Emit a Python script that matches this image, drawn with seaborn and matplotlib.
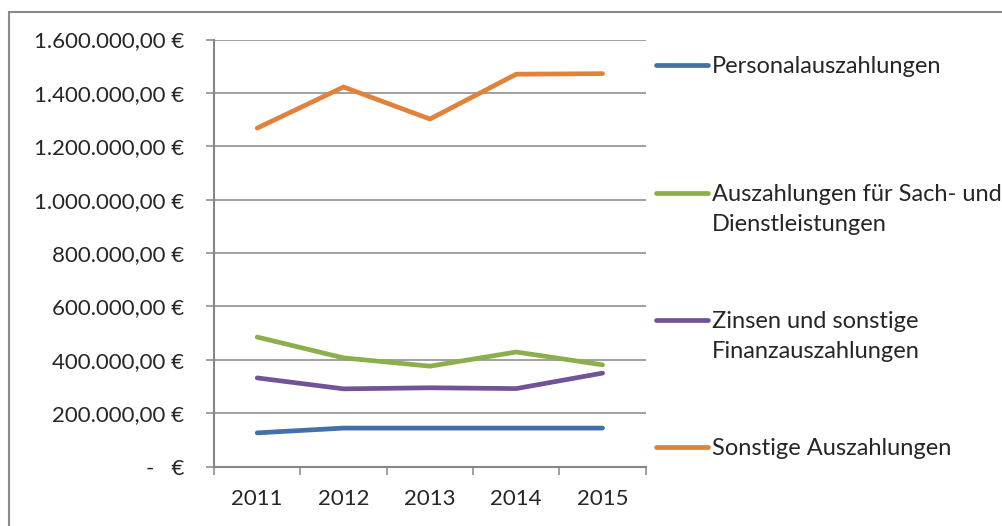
import pandas as pd
import matplotlib
matplotlib.use("Agg")
import matplotlib.pyplot as plt
import seaborn as sns
from matplotlib.lines import Line2D
from matplotlib.patches import Rectangle
from matplotlib.ticker import FuncFormatter, MultipleLocator, FixedLocator

# values
years = [2011, 2012, 2013, 2014, 2015]
personal = [126000, 144000, 144000, 144000, 144000]
sach_dienst = [485000, 407000, 376000, 429000, 381000]
zinsen = [332000, 291000, 295000, 292000, 350000]
sonstige = [1268000, 1422000, 1302000, 1470000, 1472000]

names = ["Personalauszahlungen",
         "Auszahlungen für Sach- und\nDienstleistungen",
         "Zinsen und sonstige\nFinanzauszahlungen",
         "Sonstige Auszahlungen"]
colors = ["#4470A8", "#8BAF4C", "#6F5598", "#E0823A"]

rows = []
for name, vals in zip(names, [personal, sach_dienst, zinsen, sonstige]):
    for y, v in zip(years, vals):
        rows.append({"Jahr": y, "Betrag": v, "Art": name})
df = pd.DataFrame(rows)

sns.set_style("white")
plt.rcParams['font.family'] = ['Lato', 'DejaVu Sans']
fs = 16
fs_leg = 17
grey = "#868686"

fig = plt.figure(figsize=(10.03, 5.26), dpi=100)
ax = fig.add_axes([0.2134, 0.1131, 0.4304, 0.8118])

sns.lineplot(data=df, x="Jahr", y="Betrag", hue="Art", palette=colors,
             linewidth=3.4, ax=ax, legend=False, solid_capstyle="round")

ax.set_xlim(2010.5, 2015.5)
ax.set_ylim(0, 1600000)
ax.yaxis.set_major_locator(MultipleLocator(200000))


def euro(v, pos):
    if v == 0:
        return "-   €"
    s = f"{v:,.2f}".replace(",", "X").replace(".", ",").replace("X", ".")
    return s + " €"


ax.yaxis.set_major_formatter(FuncFormatter(euro))
ax.grid(axis="y", color=grey, linewidth=1.1)
ax.set_axisbelow(True)

# category boundaries as ticks, labels centred on the years
ax.xaxis.set_major_locator(FixedLocator([2010.5 + i for i in range(6)]))
ax.xaxis.set_minor_locator(FixedLocator(years))
ax.set_xticklabels([])
ax.set_xticklabels([str(y) for y in years], minor=True)
ax.tick_params(axis="x", which="major", length=5.5, width=1.1, color=grey, direction="out", bottom=True)
ax.tick_params(axis="x", which="minor", length=0, pad=16, labelsize=fs)
ax.tick_params(axis="y", length=5.5, width=1.1, color=grey, direction="out", left=True, pad=16, labelsize=fs)

for side in ["top", "right"]:
    ax.spines[side].set_visible(False)
for side in ["left", "bottom"]:
    ax.spines[side].set_color(grey)
    ax.spines[side].set_linewidth(1.5)

ax.set_xlabel("")
ax.set_ylabel("")

# legend on the right, handle next to the first text line
leg_y = [65, 193, 320, 447]
for name, c, yp in zip(names, colors, leg_y):
    yf = 1 - yp / 526
    fig.add_artist(Line2D([656 / 1003, 708 / 1003], [yf, yf], color=c,
                          linewidth=3.4, solid_capstyle="round"))
    for i, part in enumerate(name.split("\n")):
        fig.text(712 / 1003, 1 - (yp + 8 + 30 * i) / 526, part, fontsize=fs_leg,
                 va="baseline", ha="left")

fig.add_artist(Rectangle((9.5 / 1003, -0.05), 1.05, 1.05 - 12 / 526,
                         transform=fig.transFigure, fill=False,
                         edgecolor="#8a8a8a", linewidth=1.5))

fig.savefig("out.png", dpi=100)
